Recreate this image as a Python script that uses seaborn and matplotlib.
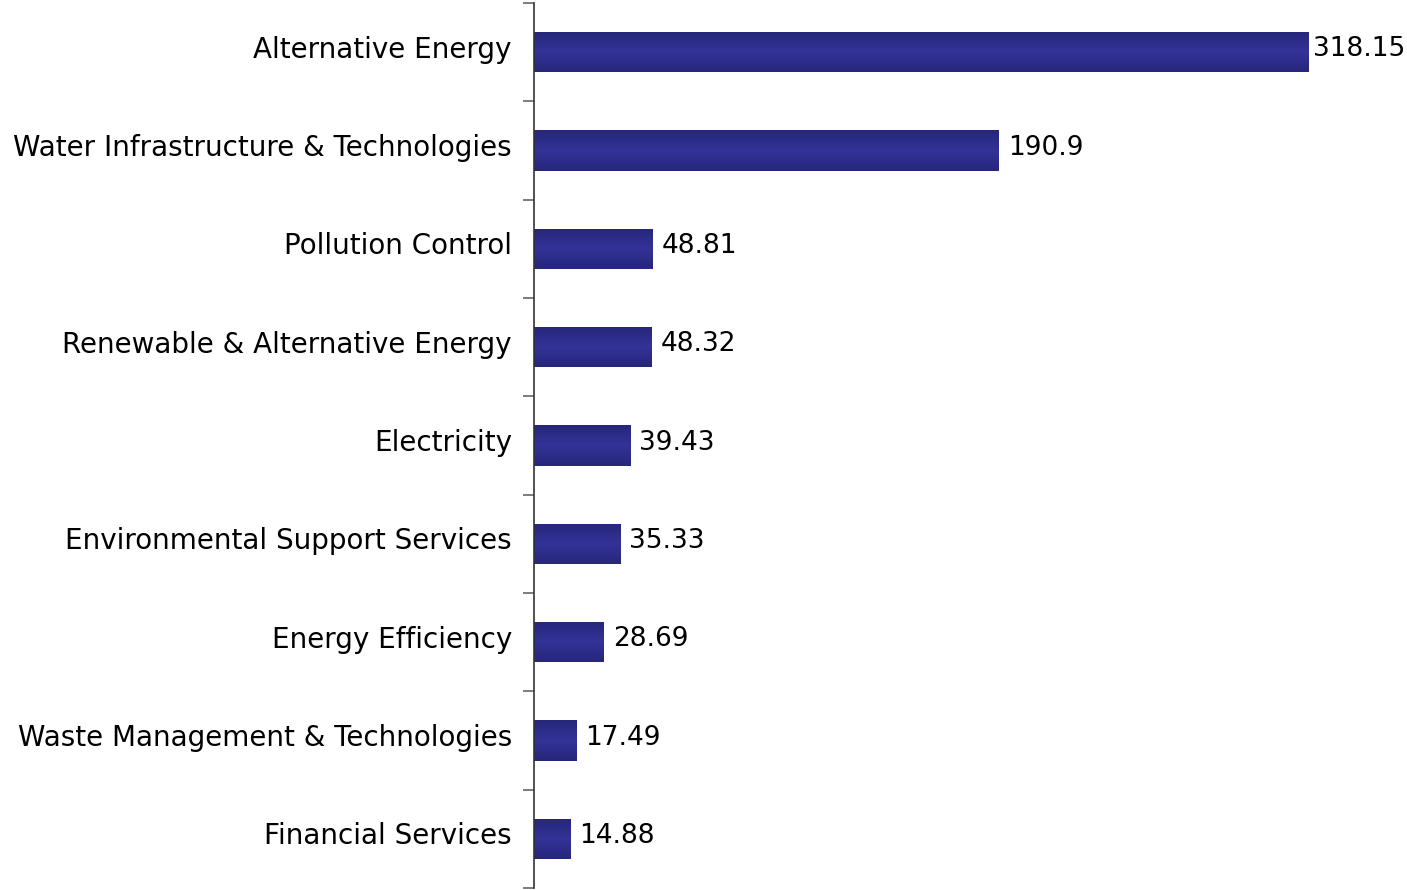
import matplotlib.pyplot as plt
import seaborn as sns
import pandas as pd
import numpy as np
from matplotlib.colors import LinearSegmentedColormap
from matplotlib.transforms import ScaledTranslation

# Dados
categorias = ['Alternative Energy', 'Water Infrastructure & Technologies', 'Pollution Control',
              'Renewable & Alternative Energy', 'Electricity', 'Environmental Support Services',
              'Energy Efficiency', 'Waste Management & Technologies', 'Financial Services']
valores = [318.15, 190.9, 48.81, 48.32, 39.43, 35.33, 28.69, 17.49, 14.88]
rotulos = ['318.15', '190.9', '48.81', '48.32', '39.43', '35.33', '28.69', '17.49', '14.88']

df = pd.DataFrame({'Categoria': categorias, 'Valor': valores})

sns.set_style('white')
plt.rcParams['font.family'] = ['DejaVu Sans']

fig = plt.figure(figsize=(14.07, 8.9), dpi=100)
ax = fig.add_axes([534 / 1407, 2 / 890, 1 - 534 / 1407, 885 / 890])

sns.barplot(data=df, x='Valor', y='Categoria', orient='h', color='#31318f',
            width=0.41, saturation=1, ax=ax, linewidth=0)

ax.set_xlabel('')
ax.set_ylabel('')
ax.set_xticks([])

# gradiente vertical nas barras (mais claro no meio)
cmap = LinearSegmentedColormap.from_list('barra', ['#26267a', '#333399', '#26267a'])
grad = np.linspace(0, 1, 64).reshape(-1, 1)
for p in ax.patches:
    x0, y0 = p.get_x(), p.get_y()
    w, h = p.get_width(), p.get_height()
    im = ax.imshow(grad, cmap=cmap, aspect='auto', extent=(x0, x0 + w, y0 + h, y0),
                   interpolation='bicubic', zorder=p.get_zorder() + 0.1)
    im.set_clip_path(p)
ax.set_xlim(0, 358.5)
ax.set_ylim(len(categorias) - 0.5, -0.5)

for s in ['top', 'right', 'bottom']:
    ax.spines[s].set_visible(False)
ax.spines['left'].set_color('#333333')
ax.spines['left'].set_linewidth(1.2)
ax.spines['left'].set_zorder(5)

ax.tick_params(axis='y', which='major', length=0, pad=16, labelsize=20, labelcolor='black')
ax.set_yticks(np.arange(-0.5, len(categorias)), minor=True)
ax.tick_params(axis='y', which='minor', length=8, color='#666666', width=1.2, left=True)

# rótulos das categorias um pouco acima do centro da barra
desloc = ScaledTranslation(0, 4 / 72, fig.dpi_scale_trans)
for lbl in ax.get_yticklabels():
    lbl.set_transform(lbl.get_transform() + desloc)

fig.canvas.draw()
renderer = fig.canvas.get_renderer()
for i, (v, r) in enumerate(zip(valores, rotulos)):
    t = ax.annotate(r, (v, i), xytext=(6.5, 2), textcoords='offset points',
                    va='center', ha='left', fontsize=19, color='black')
    bb = t.get_window_extent(renderer)
    if bb.x1 > fig.bbox.x1 - 2:
        dx = (bb.x1 - fig.bbox.x1 + 2) * 72 / fig.dpi
        t.set_position((max(6.5 - dx, 2.5), 2))

fig.savefig('out.png', dpi=100)
